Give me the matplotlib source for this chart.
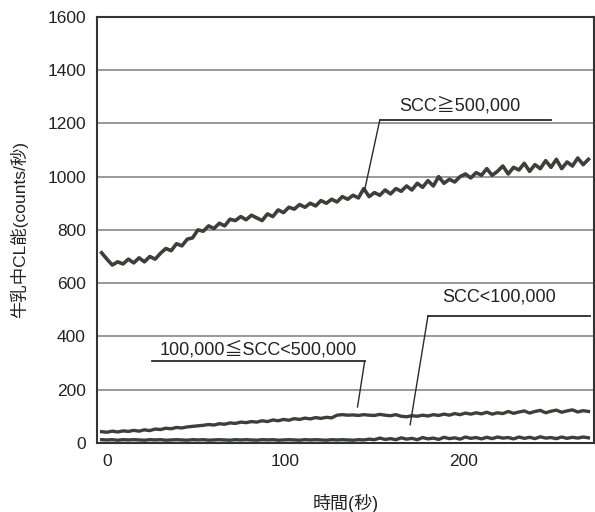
import numpy as np
import matplotlib.pyplot as plt

plt.rcParams['font.family'] = ['Liberation Sans', 'Noto Sans CJK JP', 'DejaVu Sans']

# sample times (s)
t = np.arange(-3, 271, 3)

# SCC >= 500,000
high = [714, 690, 668, 680, 672, 690, 676, 695, 680, 700,
        690, 712, 730, 722, 748, 740, 765, 770, 800, 795,
        815, 805, 825, 815, 840, 835, 850, 838, 855, 845,
        835, 860, 850, 875, 865, 885, 878, 895, 885, 900,
        890, 910, 900, 915, 905, 925, 915, 930, 920, 955,
        925, 940, 930, 950, 935, 955, 945, 965, 950, 975,
        960, 985, 965, 1000, 975, 990, 980, 1000, 1010, 995,
        1015, 1005, 1030, 1005, 1020, 1040, 1010, 1035, 1025, 1050,
        1020, 1045, 1030, 1060, 1035, 1065, 1030, 1055, 1040, 1070,
        1045, 1065]

# 100,000 <= SCC < 500,000
mid = [42, 40, 44, 41, 45, 43, 47, 44, 49, 46,
       52, 50, 55, 53, 58, 56, 60, 62, 64, 66,
       69, 67, 72, 70, 75, 73, 78, 76, 80, 78,
       83, 80, 86, 83, 88, 85, 91, 88, 93, 90,
       95, 92, 96, 94, 104, 106, 104, 105, 103, 106,
       104, 103, 107, 104, 102, 106, 100, 98, 102, 100,
       104, 101, 106, 103, 108, 104, 110, 106, 112, 108,
       113, 109, 115, 108, 113, 110, 118, 111, 116, 120,
       112, 118, 122, 113, 119, 123, 115, 120, 124, 116,
       121, 118]

# SCC < 100,000
low = [12, 11, 12, 10, 12, 11, 12, 11, 10, 12,
       11, 12, 10, 11, 12, 11, 10, 12, 11, 12,
       10, 11, 12, 11, 10, 12, 11, 12, 11, 10,
       12, 11, 12, 10, 11, 12, 11, 10, 12, 11,
       12, 11, 10, 12, 11, 12, 11, 10, 12, 11,
       14, 12, 18, 13, 16, 12, 19, 14, 17, 12,
       20, 15, 18, 13, 21, 16, 19, 14, 22, 17,
       20, 15, 21, 16, 22, 18, 20, 15, 22, 17,
       21, 16, 23, 18, 20, 16, 22, 17, 21, 18,
       22, 19]

yticks = [0, 200, 400, 600, 800, 1000, 1200, 1400, 1600]
xticks = [0, 100, 200]

fig = plt.figure(figsize=(5.95, 5.12), dpi=100)
ax = fig.add_axes([0.163, 0.135, 0.835, 0.832])

line_color = "#3b4139"
ax.plot(t, high, color=line_color, lw=2.6)
ax.plot(t, mid, color=line_color, lw=2.4)
ax.plot(t, low, color=line_color, lw=2.4)

ax.set_xlim(-5.6, 273)
ax.set_ylim(0, 1600)
ax.set_yticks(yticks)
ax.set_xticks(xticks)
ax.tick_params(length=0, labelsize=12.5, colors="#222222", pad=8)
ax.grid(axis="y", color="#888888", lw=1.2)
for s in ax.spines.values():
    s.set_color("#333333")
    s.set_linewidth(1.5)

# leader lines and labels
lc = "#2a2a2a"
ax.plot([153, 249], [1213, 1213], color=lc, lw=1.3)
ax.plot([153, 144.5], [1213, 950], color=lc, lw=1.0)
ax.text(198, 1265, "SCC≧500,000", ha="center", va="center", fontsize=13, color="#222222")

ax.plot([180, 271], [477, 477], color=lc, lw=1.3)
ax.plot([180, 170], [477, 68], color=lc, lw=1.0)
ax.text(220, 548, "SCC<100,000", ha="center", va="center", fontsize=13, color="#222222")

ax.plot([25, 144.5], [306, 306], color=lc, lw=1.3)
ax.plot([144.5, 140.5], [306, 135], color=lc, lw=1.0)
ax.text(85, 350, "100,000≦SCC<500,000", ha="center", va="center", fontsize=13, color="#222222")

ax.set_ylabel("牛乳中CL能(counts/秒)", fontsize=12.5, color="#222222", labelpad=14)
ax.set_xlabel("時間(秒)", fontsize=13, color="#222222", labelpad=18)

fig.savefig("out.png", dpi=100)
